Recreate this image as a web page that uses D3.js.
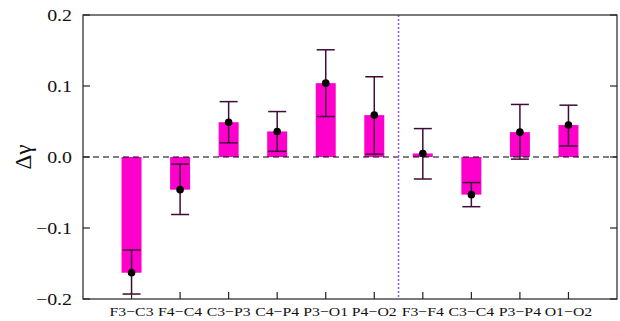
<!DOCTYPE html>
<html><head><meta charset="utf-8">
<script src="https://cdn.jsdelivr.net/npm/d3@7"></script>
<style>html,body{margin:0;padding:0;background:#fff;}svg{display:block;}</style>
</head><body>
<script>
const categories = ["F3−C3","F4−C4","C3−P3","C4−P4","P3−O1","P4−O2","F3−F4","C3−C4","P3−P4","O1−O2"];
const means   = [-0.163, -0.046, 0.049, 0.036, 0.104, 0.059, 0.005, -0.053, 0.035, 0.045];
const errLow  = [-0.193, -0.081, 0.020, 0.008, 0.057, 0.004, -0.031, -0.070, -0.003, 0.0155];
const errHigh = [-0.131, -0.010, 0.078, 0.064, 0.151, 0.113, 0.040, -0.036, 0.074, 0.073];
const yTicks = [-0.2, -0.1, 0.0, 0.1, 0.2];
const groupSplit = 6.5;

const W = 620, H = 321;
const m = {left: 83, right: 3, top: 15, bottom: 22};
const svg = d3.select("body").append("svg").attr("width", W).attr("height", H);
const x = d3.scaleLinear().domain([0, categories.length + 1]).range([m.left, W - m.right]);
const y = d3.scaleLinear().domain([-0.2, 0.2]).range([H - m.bottom, m.top]);
const font = "'Liberation Serif', 'Times New Roman', serif";
const stretch = 1.17;
const barW = 20, capW = 18;
const data = categories.map((c, i) => ({c, i: i + 1, m: means[i], lo: errLow[i], hi: errHigh[i]}));

// bars
svg.append("g").selectAll("rect").data(data).enter().append("rect")
  .attr("x", d => x(d.i) - barW / 2).attr("width", barW)
  .attr("y", d => y(Math.max(0, d.m))).attr("height", d => Math.abs(y(d.m) - y(0)))
  .attr("fill", "#ff00cc");

// zero dashed line
svg.append("line").attr("x1", x(0)).attr("x2", x(categories.length + 1))
  .attr("y1", y(0)).attr("y2", y(0))
  .attr("stroke", "#000").attr("stroke-width", 1.2).attr("stroke-dasharray", "6,4");

// split line
svg.append("line").attr("x1", x(groupSplit)).attr("x2", x(groupSplit))
  .attr("y1", y(0.2)).attr("y2", y(-0.2))
  .attr("stroke", "#9a5ce8").attr("stroke-width", 1.5).attr("stroke-dasharray", "2,2");

// error bars
const eb = svg.append("g").attr("stroke", "#3e0c36").attr("stroke-width", 1.5);
data.forEach(d => {
  eb.append("line").attr("x1", x(d.i)).attr("x2", x(d.i)).attr("y1", y(d.lo)).attr("y2", y(d.hi));
  eb.append("line").attr("x1", x(d.i) - capW / 2).attr("x2", x(d.i) + capW / 2).attr("y1", y(d.lo)).attr("y2", y(d.lo));
  eb.append("line").attr("x1", x(d.i) - capW / 2).attr("x2", x(d.i) + capW / 2).attr("y1", y(d.hi)).attr("y2", y(d.hi));
});
svg.append("g").selectAll("circle").data(data).enter().append("circle")
  .attr("cx", d => x(d.i)).attr("cy", d => y(d.m)).attr("r", 3.8).attr("fill", "#000");

// frame
const ax = svg.append("g").attr("stroke", "#222").attr("stroke-width", 1.2).attr("fill", "none");
ax.append("rect").attr("x", x(0)).attr("y", y(0.2)).attr("width", x(categories.length + 1) - x(0)).attr("height", y(-0.2) - y(0.2));
yTicks.forEach(t => {
  ax.append("line").attr("x1", x(0)).attr("x2", x(0) + 7).attr("y1", y(t)).attr("y2", y(t));
  ax.append("line").attr("x1", x(categories.length + 1)).attr("x2", x(categories.length + 1) - 7).attr("y1", y(t)).attr("y2", y(t));
});
data.forEach(d => {
  ax.append("line").attr("x1", x(d.i)).attr("x2", x(d.i)).attr("y1", y(-0.2)).attr("y2", y(-0.2) - 7);
});

// y tick labels
const fmt = v => (v < 0 ? "\u2212" : "") + Math.abs(v).toFixed(1);
yTicks.forEach(t => {
  svg.append("text").attr("transform", `translate(${x(0) - 11},${y(t) + 6}) scale(${stretch},1)`)
    .attr("text-anchor", "end").attr("font-family", font).attr("font-size", 17).attr("fill", "#111")
    .text(fmt(t));
});
// x labels
data.forEach(d => {
  svg.append("text").attr("transform", `translate(${x(d.i)},${H - 5}) scale(${stretch},1)`)
    .attr("text-anchor", "middle").attr("font-family", font).attr("font-size", 13.5).attr("fill", "#111")
    .text(d.c);
});
// y title
svg.append("text").attr("transform", `translate(31,${y(0)}) rotate(-90)`)
  .attr("text-anchor", "middle").attr("font-family", font).attr("font-size", 23).attr("fill", "#111")
  .text("Δγ");
</script>
</body></html>
